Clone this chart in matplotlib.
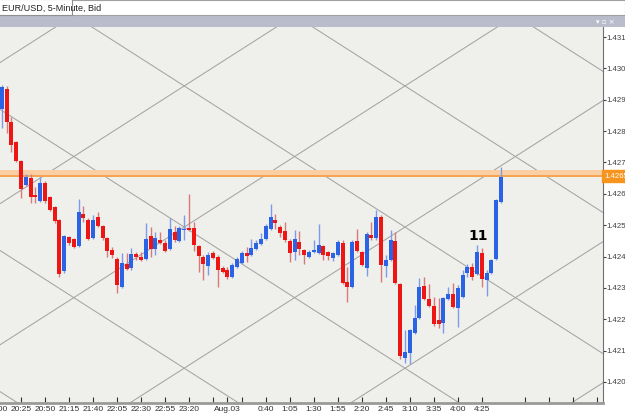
import matplotlib
matplotlib.use('Agg')
import matplotlib.pyplot as plt
from matplotlib.patches import Rectangle
import numpy as np

plt.rcParams['font.family'] = ['Liberation Sans', 'DejaVu Sans']

# 5-minute EUR/USD bars, bar index 0 = 20:25
bar_idx = list(range(-4, 101))
opens = [1.42870, 1.42934, 1.42829, 1.42765, 1.42705, 1.42628, 1.42650, 1.42596, 1.42577, 1.42635,
         1.42590, 1.42558, 1.42517, 1.42354, 1.42462, 1.42456, 1.42434, 1.42536, 1.42517, 1.42459,
         1.42526, 1.42497, 1.42459, 1.42421, 1.42392, 1.42303, 1.42376, 1.42364, 1.42408, 1.42399,
         1.42392, 1.42466, 1.42425, 1.42453, 1.42443, 1.42425, 1.42478, 1.42450, 1.42485, 1.42491,
         1.42491, 1.42434, 1.42399, 1.42370, 1.42411, 1.42399, 1.42364, 1.42357, 1.42335, 1.42367,
         1.42379, 1.42411, 1.42405, 1.42424, 1.42440, 1.42456, 1.42488, 1.42517, 1.42494, 1.42482,
         1.42450, 1.42415, 1.42446, 1.42421, 1.42399, 1.42415, 1.42411, 1.42434, 1.42415, 1.42395,
         1.42405, 1.42443, 1.42319, 1.42303, 1.42450, 1.42415, 1.42364, 1.42469, 1.42459, 1.42526,
         1.42370, 1.42389, 1.42450, 1.42313, 1.42077, 1.42092, 1.42156, 1.42204, 1.42306, 1.42265,
         1.42242, 1.42198, 1.42188, 1.42265, 1.42281, 1.42236, 1.42271, 1.42348, 1.42367, 1.42344,
         1.42411, 1.42325, 1.42348, 1.42392, 1.42574]
highs = [1.42947, 1.42944, 1.42845, 1.42768, 1.42708, 1.42663, 1.42663, 1.42622, 1.42654, 1.42641,
         1.42593, 1.42561, 1.42520, 1.42469, 1.42466, 1.42459, 1.42584, 1.42561, 1.42523, 1.42533,
         1.42542, 1.42501, 1.42462, 1.42430, 1.42398, 1.42411, 1.42411, 1.42427, 1.42414, 1.42414,
         1.42507, 1.42495, 1.42478, 1.42478, 1.42453, 1.42523, 1.42497, 1.42497, 1.42533, 1.42599,
         1.42510, 1.42437, 1.42405, 1.42415, 1.42418, 1.42405, 1.42370, 1.42367, 1.42379, 1.42399,
         1.42418, 1.42430, 1.42456, 1.42453, 1.42475, 1.42504, 1.42568, 1.42536, 1.42501, 1.42510,
         1.42456, 1.42485, 1.42481, 1.42424, 1.42421, 1.42453, 1.42504, 1.42437, 1.42418, 1.42414,
         1.42453, 1.42453, 1.42367, 1.42453, 1.42488, 1.42418, 1.42478, 1.42510, 1.42548, 1.42533,
         1.42405, 1.42485, 1.42478, 1.42316, 1.42166, 1.42169, 1.42245, 1.42332, 1.42335, 1.42313,
         1.42271, 1.42268, 1.42271, 1.42303, 1.42316, 1.42310, 1.42357, 1.42376, 1.42379, 1.42437,
         1.42427, 1.42357, 1.42392, 1.42583, 1.42686]
lows = [1.42810, 1.42794, 1.42733, 1.42702, 1.42587, 1.42625, 1.42571, 1.42571, 1.42574, 1.42571,
        1.42545, 1.42507, 1.42335, 1.42348, 1.42437, 1.42427, 1.42430, 1.42510, 1.42453, 1.42456,
        1.42494, 1.42453, 1.42399, 1.42395, 1.42284, 1.42300, 1.42357, 1.42357, 1.42389, 1.42386,
        1.42389, 1.42399, 1.42405, 1.42440, 1.42414, 1.42421, 1.42446, 1.42446, 1.42453, 1.42481,
        1.42418, 1.42351, 1.42325, 1.42341, 1.42392, 1.42303, 1.42348, 1.42329, 1.42332, 1.42364,
        1.42376, 1.42383, 1.42402, 1.42421, 1.42437, 1.42453, 1.42485, 1.42488, 1.42462, 1.42446,
        1.42383, 1.42389, 1.42405, 1.42376, 1.42395, 1.42411, 1.42408, 1.42389, 1.42389, 1.42386,
        1.42402, 1.42313, 1.42255, 1.42300, 1.42415, 1.42370, 1.42338, 1.42453, 1.42453, 1.42319,
        1.42335, 1.42386, 1.42313, 1.42073, 1.42061, 1.42057, 1.42153, 1.42201, 1.42262, 1.42239,
        1.42179, 1.42172, 1.42156, 1.42262, 1.42236, 1.42175, 1.42268, 1.42335, 1.42325, 1.42341,
        1.42303, 1.42274, 1.42345, 1.42389, 1.42571]
closes = [1.42941, 1.42829, 1.42756, 1.42705, 1.42615, 1.42654, 1.42590, 1.42590, 1.42635, 1.42577,
          1.42548, 1.42513, 1.42344, 1.42466, 1.42443, 1.42430, 1.42542, 1.42523, 1.42456, 1.42517,
          1.42497, 1.42459, 1.42418, 1.42405, 1.42309, 1.42379, 1.42360, 1.42408, 1.42399, 1.42389,
          1.42456, 1.42425, 1.42459, 1.42443, 1.42418, 1.42488, 1.42453, 1.42491, 1.42488, 1.42484,
          1.42437, 1.42402, 1.42376, 1.42405, 1.42395, 1.42357, 1.42351, 1.42335, 1.42373, 1.42392,
          1.42411, 1.42402, 1.42427, 1.42443, 1.42456, 1.42497, 1.42526, 1.42507, 1.42475, 1.42453,
          1.42411, 1.42456, 1.42424, 1.42405, 1.42415, 1.42421, 1.42437, 1.42405, 1.42402, 1.42411,
          1.42446, 1.42316, 1.42303, 1.42446, 1.42418, 1.42373, 1.42472, 1.42459, 1.42526, 1.42373,
          1.42389, 1.42453, 1.42316, 1.42083, 1.42096, 1.42166, 1.42204, 1.42303, 1.42265, 1.42242,
          1.42185, 1.42185, 1.42268, 1.42281, 1.42239, 1.42300, 1.42341, 1.42367, 1.42335, 1.42415,
          1.42328, 1.42348, 1.42389, 1.42580, 1.42654]

# time axis labels
tick_bars = [0, 5, 10, 15, 20, 25, 30, 35, 40, 43, 46, 51, 56, 61, 66, 71, 76, 81, 86, 91, 96,
             105, 110, 115, 120]
tick_text = ['20:25', '20:50', '21:15', '21:40', '22:05', '22:30', '22:55', '23:20', '', 'Aug.03', '',
             '0:40', '1:05', '1:30', '1:55', '2:20', '2:45', '3:10', '3:35', '4:00', '4:25',
             '', '', '', '']
price_ticks = [1.4200, 1.4210, 1.4220, 1.4230, 1.4240, 1.4250, 1.4260, 1.4270,
               1.4280, 1.4290, 1.4300, 1.4310]

# gann grid (anchor crossing, cell width in bars, cell height in price)
grid_k0, grid_p0 = 34, 1.42944
grid_w, grid_h = 46, 0.0045

band_lo, band_hi, bid = 1.42655, 1.42676, 1.42656
label_bar, label_price = 95.2, 1.42466

bg = '#efefec'
fig = plt.figure(figsize=(6.25, 4.15), dpi=100)
ax = fig.add_axes([0, 12/415, 603/625, (403-27)/415])
ax.set_facecolor(bg)
x0, x1 = -4.375, 121.25
y0, y1 = 1.41933, 1.43132
ax.set_xlim(x0, x1)
ax.set_ylim(y0, y1)

# grid lines
slope = grid_h / grid_w
xs = np.array([x0, x1])
for n in range(-6, 7):
    ax.plot(xs, grid_p0 - slope*(xs - grid_k0) + n*grid_h, color='#a4a4a4', lw=0.75, zorder=1)
    ax.plot(xs, grid_p0 + slope*(xs - grid_k0) + n*grid_h, color='#a4a4a4', lw=0.75, zorder=1)

# bid band
ax.axhspan(band_lo, band_hi, color='#f9cfa3', zorder=2, lw=0)
ax.axhline(bid, color='#f5a049', lw=1.3, zorder=2)

# candles
for k, o, h, l, c in zip(bar_idx, opens, highs, lows, closes):
    up = c >= o
    body = '#2a63e6' if up else '#ee1515'
    wick = '#7d9ce8' if up else '#d97a7a'
    ax.vlines(k, l, h, color=wick, lw=1.0, zorder=3)
    ax.bar(k, abs(c - o) if abs(c - o) > 0.00002 else 0.00002, bottom=min(o, c), width=0.8,
           color=body, lw=0, zorder=4)

ax.text(label_bar, label_price, '11', fontsize=10, fontweight='bold', family='DejaVu Sans',
        ha='center', va='center', zorder=5)

# axes styling
for s in ['top', 'left']:
    ax.spines[s].set_visible(False)
ax.spines['right'].set_color('#707070')
ax.spines['bottom'].set_color('#9a9a9a')
ax.spines['bottom'].set_linewidth(2)
ax.yaxis.tick_right()
ax.set_yticks(price_ticks)
ax.set_yticklabels(['%.4f' % p for p in price_ticks])
ax.tick_params(axis='y', direction='out', length=2, pad=0.3, labelsize=5.6, colors='#404040')
ax.set_xticks(tick_bars)
ax.set_xticklabels(tick_text)
ax.tick_params(axis='x', direction='in', length=4, pad=2, labelsize=6, colors='#303030')
ax.text(-5, -0.008, '20:00', transform=ax.get_xaxis_transform(), fontsize=6, ha='center',
        va='top', color='#303030', clip_on=False)

# current bid marker on the price scale
ax.text(1.003, bid, '1.4265', transform=ax.get_yaxis_transform(), fontsize=5.6, color='white',
        va='center', ha='left', clip_on=False,
        bbox=dict(boxstyle='square,pad=0.3', fc='#f7941d', ec='#f7941d'))

# window header
fig.add_artist(Rectangle((0, (415-27)/415), 1, 11/415, transform=fig.transFigure,
                         fc='#b9bdcb', ec='none'))
fig.add_artist(Rectangle((0, (415-15.5)/415), 1, 15.5/415, transform=fig.transFigure,
                         fc='white', ec='#a0a0a0', lw=0.8))
fig.add_artist(Rectangle((-0.01, (415-15.5)/415), 78/625, 16/415, transform=fig.transFigure,
                         fc='white', ec='#909090', lw=0.8))
fig.text(2/625, (415-8)/415, 'EUR/USD, 5-Minute, Bid', fontsize=6.5, va='center', ha='left',
         color='#202020')
fig.text(596/625, (415-21.5)/415, '\u25be \u25ab \u00d7', fontsize=5, va='center', ha='left',
         color='white', family='DejaVu Sans')

fig.savefig('out.png', dpi=100, facecolor='white')
